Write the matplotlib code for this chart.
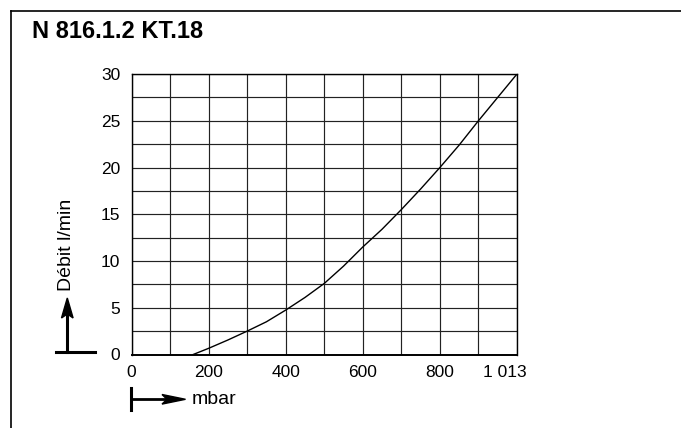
import matplotlib
matplotlib.use("Agg")
import matplotlib.pyplot as plt
from matplotlib.lines import Line2D
from matplotlib.transforms import ScaledTranslation

plt.rcParams['font.family'] = ['Liberation Sans', 'DejaVu Sans']

# Data
pressure_mbar = [160, 200, 250, 300, 350, 400, 450, 500, 550, 600, 650, 700,
                 750, 800, 850, 900, 950, 1000]
flow_l_min = [0, 0.66, 1.55, 2.5, 3.5, 4.75, 6.1, 7.6, 9.45, 11.5, 13.4, 15.5,
              17.7, 20.0, 22.4, 25.0, 27.5, 30.0]
x_ticks = [0, 200, 400, 600, 800, 1000]
x_tick_labels = ["0", "200", "400", "600", "800", "1 013"]
y_ticks = [0, 5, 10, 15, 20, 25, 30]
title = "N 816.1.2 KT.18"
y_label = "Débit l/min"
x_label = "mbar"

W, H = 681, 428
fig = plt.figure(figsize=(W / 100, H / 100), dpi=100)

def fx(x):
    return x / W

def fy(y):
    return 1 - y / H

left, right, top, bottom = 131.5, 517, 74, 354.5
ax = fig.add_axes([fx(left), fy(bottom), fx(right - left), (bottom - top) / H])
ax.set_xlim(0, 1000)
ax.set_ylim(0, 30)

for v in range(0, 1001, 100):
    ax.axvline(v, color='#222222', lw=0.85, zorder=1)
for h in [i * 2.5 for i in range(13)]:
    ax.axhline(h, color='#222222', lw=0.85, zorder=1)

ax.plot(pressure_mbar, flow_l_min, color='black', lw=1.0, zorder=3)

for s in ax.spines.values():
    s.set_color('black')
    s.set_linewidth(1.0)
ax.spines['bottom'].set_linewidth(1.4)

ax.set_xticks(x_ticks)
ax.set_xticklabels(x_tick_labels)
ax.set_yticks(y_ticks)
ax.tick_params(length=0, labelsize=12.5, pad=8)
ax.tick_params(axis='x', pad=7.5)
lbl = ax.get_xticklabels()[-1]
lbl.set_transform(lbl.get_transform() + ScaledTranslation(-9 / 72, 0, fig.dpi_scale_trans))

# Frame
fig.add_artist(Line2D([fx(11), fx(681)], [fy(10.7), fy(10.7)], color='black', lw=1.2))
fig.add_artist(Line2D([fx(11), fx(11)], [fy(10.7), fy(428)], color='black', lw=1.2))

# Title
fig.text(fx(32), fy(31), title, fontsize=17, fontweight='bold', ha='left', va='center')

# Y arrow
fig.add_artist(Line2D([fx(56), fx(95)], [fy(352.3), fy(352.3)], color='black', lw=2.2))
fig.add_artist(Line2D([fx(67.3), fx(67.3)], [fy(352.3), fy(312)], color='black', lw=2.2))
fig.patches.append(matplotlib.patches.Polygon(
    [(fx(67.3), fy(298)), (fx(61.5), fy(318)), (fx(67.3), fy(314)), (fx(73.1), fy(318))],
    closed=True, transform=fig.transFigure, color='black'))
fig.text(fx(66.7), fy(244.5), y_label, rotation=90, fontsize=14, ha='center', va='center')

# X arrow
fig.add_artist(Line2D([fx(131.3), fx(131.3)], [fy(388), fy(410)], color='black', lw=2.2))
fig.add_artist(Line2D([fx(131.3), fx(168)], [fy(399.3), fy(399.3)], color='black', lw=2.0))
fig.patches.append(matplotlib.patches.Polygon(
    [(fx(185.5), fy(399.3)), (fx(162), fy(394.5)), (fx(167), fy(399.3)), (fx(162), fy(404.1))],
    closed=True, transform=fig.transFigure, color='black'))
fig.text(fx(191.5), fy(400), x_label, fontsize=14, ha='left', va='center')

fig.savefig("out.png", dpi=100)
